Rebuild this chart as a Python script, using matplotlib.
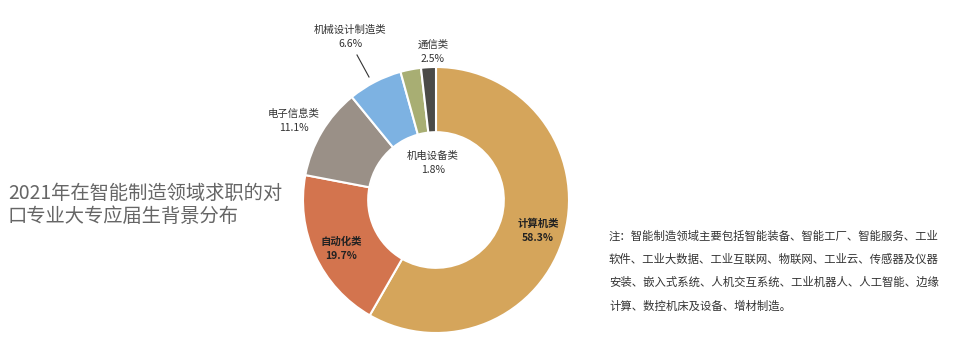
import matplotlib.pyplot as plt

plt.rcParams['font.family'] = ['Noto Sans CJK SC', 'DejaVu Sans']

categories = ["计算机类", "自动化类", "电子信息类", "机械设计制造类", "通信类", "机电设备类"]
shares = [58.3, 19.7, 11.1, 6.6, 2.5, 1.8]
colors = ["#D5A55B", "#D3744E", "#9A9087", "#7DB2E2", "#A8AE73", "#4B4A47"]

W, H = 967, 354
fig = plt.figure(figsize=(W / 100, H / 100), dpi=100)
ax = fig.add_axes([0, 0, 1, 1])

cx, cy, r = 436, H - 200, 133
ax.pie(shares, colors=colors, startangle=90, counterclock=False,
       center=(cx, cy), radius=r, frame=True,
       wedgeprops=dict(width=r * 0.49, edgecolor="white", linewidth=1.5))
ax.set_xlim(0, W)
ax.set_ylim(0, H)
ax.set_aspect("equal")
ax.axis("off")


def y(v):
    return H - v


# slice labels (pixel positions from the reference)
label_pos = {
    "计算机类": (538, 231, "bold", "#222222"),
    "自动化类": (341, 249, "bold", "#222222"),
    "电子信息类": (294, 121, "normal", "#333333"),
    "机械设计制造类": (350, 37, "normal", "#333333"),
    "通信类": (433, 52, "normal", "#333333"),
    "机电设备类": (433, 163, "normal", "#333333"),
}
for name, val in zip(categories, shares):
    px, py, fw, col = label_pos[name]
    ax.text(px, y(py), f"{name}\n{val:.1f}%", ha="center", va="center",
            fontsize=7.5, fontweight=fw, color=col, linespacing=1.5)

# leader line for 机械设计制造类
ax.plot([357, 369], [y(55), y(77)], color="#333333", lw=0.8)

ax.text(8, y(205), "2021年在智能制造领域求职的对\n口专业大专应届生背景分布",
        ha="left", va="center", fontsize=13.9, fontweight="light",
        color="#666666", linespacing=1.15)

note = ("注：智能制造领域主要包括智能装备、智能工厂、智能服务、工业\n"
        "软件、工业大数据、工业互联网、物联网、工业云、传感器及仪器\n"
        "安装、嵌入式系统、人机交互系统、工业机器人、人工智能、边缘\n"
        "计算、数控机床及设备、增材制造。")
ax.text(609, y(271), note, ha="left", va="center", fontsize=8.2,
        color="#333333", linespacing=2.3)

fig.savefig("out.png", dpi=100)
